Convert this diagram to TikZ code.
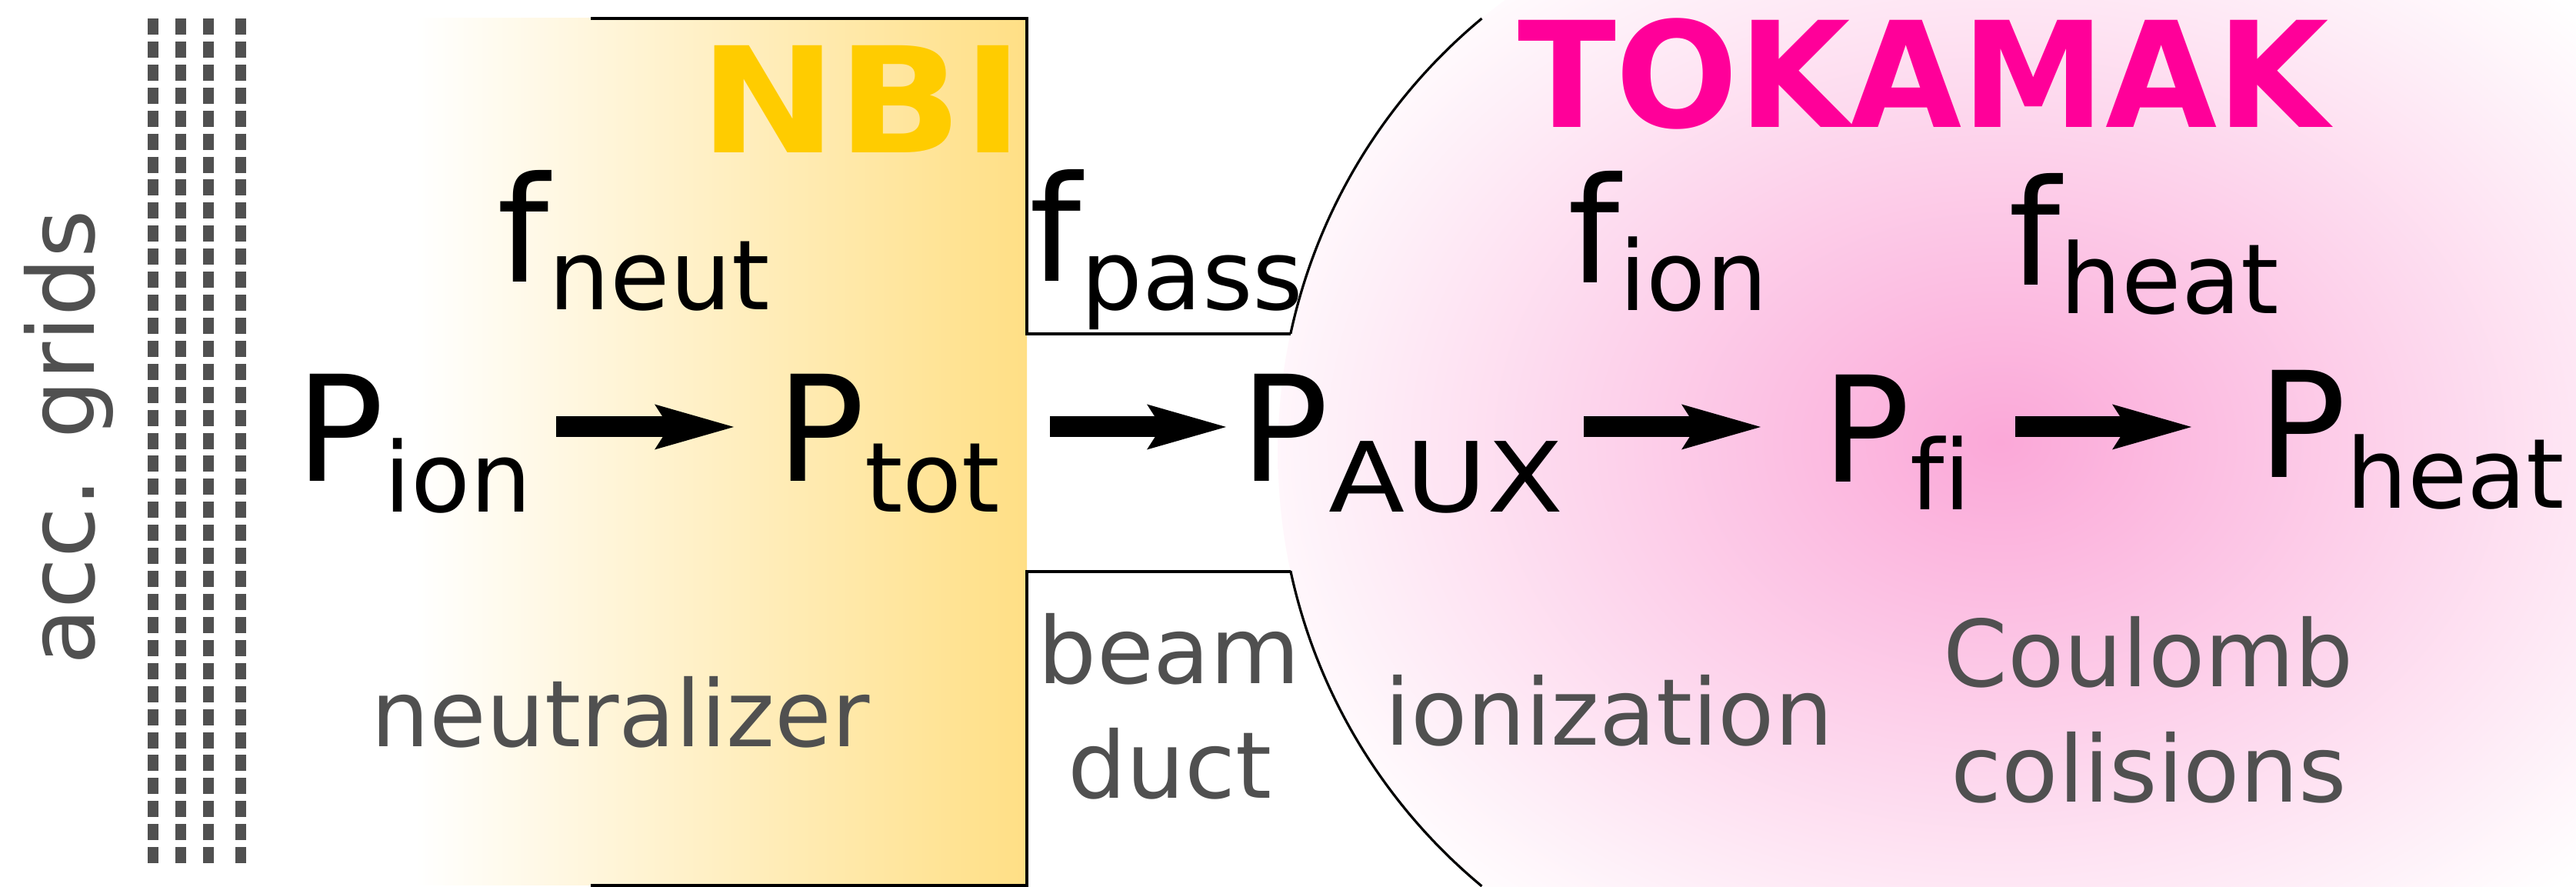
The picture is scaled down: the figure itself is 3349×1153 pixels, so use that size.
\documentclass[tikz,border=0pt]{standalone}
\usepackage{fontspec}
\setmainfont{DejaVu Sans}
\usetikzlibrary{arrows.meta}
\definecolor{nbigold}{RGB}{255,204,0}
\definecolor{tokpink}{RGB}{255,0,153}
\definecolor{nbifill}{RGB}{255,223,133}
\definecolor{pinkglow}{RGB}{251,168,216}
\definecolor{labelgray}{RGB}{80,80,80}
\definecolor{gridgray}{RGB}{80,80,80}
\newcommand{\bigsym}[3]{{\fontsize{191}{191}\selectfont #1}\raisebox{-#3pt}{\fontsize{126}{126}\selectfont #2}}
\begin{document}
\begin{tikzpicture}[x=1pt,y=1pt,
  every node/.style={inner sep=0pt, outer sep=0pt},
  sym/.style={anchor=base west, text=black},
  lbl/.style={anchor=base, text=labelgray, font=\fontsize{120}{120}\selectfont},
  titletext/.style={anchor=base west, font=\fontsize{191}{191}\selectfont\bfseries},
  arr/.style={line width=27pt, -{Stealth[length=103pt,width=59pt,inset=19pt,line width=0pt]}},
  boxline/.style={line width=4.5pt},
  arcline/.style={line width=3.2pt},
  gridline/.style={line width=14pt, draw=gridgray, dash pattern=on 21pt off 8.92pt}]

\useasboundingbox (0,0) rectangle (3349,1153);
\fill[white] (0,0) rectangle (3349,1153);

% neutralizer gradient
\shade[left color=white, right color=nbifill] (540,2) rectangle (1335,1129);

% tokamak glow
\begin{scope}
  \clip (2394,1297.6) arc[start angle=90,end angle=270,radius=732.6] -- (3349,-167.6) -- (3349,1297.6) -- cycle;
  \shade[inner color=pinkglow, outer color=white] (2600,578) ellipse [x radius=1050, y radius=800];
\end{scope}

% accelerator grids
\foreach \gx in {199,235,271,313} \draw[gridline] (\gx,1129) -- (\gx,31);

% outlines
\coordinate (C) at (2394,565);
\draw[boxline] (768,1129) -- (1335,1129) -- (1335,719) -- (1678,719);
\draw[boxline] (1678,410) -- (1335,410) -- (1335,2) -- (768,2);
\draw[arcline] (C) ++(167.86:732.6) arc[start angle=167.86,end angle=129.66,radius=732.6];
\draw[arcline] (C) ++(192.14:732.6) arc[start angle=192.14,end angle=230.34,radius=732.6];

% titles
\node[titletext, text=nbigold] (nbi) at (909,954) {\scalebox{1.12}[1]{NBI}};
\node[titletext, text=tokpink] (tok) at (1973,987) {\scalebox{0.982}[1]{TOKAMAK}};

% factors
\node[sym] (fneut) at (646.6,786) {\bigsym{f}{neut}{36}};
\node[sym] (fpass) at (1338.6,787) {\bigsym{f}{pass}{37}};
\node[sym] (fion) at (2038.6,785) {\bigsym{f}{ion}{36}};
\node[sym] (fheat) at (2611.6,782) {\bigsym{f}{heat}{37}};

% powers
\node[sym] (Pion) at (384.3,527) {\bigsym{P}{ion}{40}};
\node[sym] (Ptot) at (1009.3,527) {\bigsym{P}{tot}{40}};
\node[sym] (Paux) at (1612.8,527) {\bigsym{P}{\scalebox{1.15}[1]{AUX}}{40}};
\node[sym] (Pfi) at (2368.3,526) {\bigsym{P}{f\kern0pt i}{36}};
\node[sym] (Pheat) at (2935,532) {\bigsym{P}{heat}{40}};

% arrows
\coordinate (yl) at (0,598);
\draw[arr, shorten <=338.7pt, shorten >=55.3pt] (Pion.base west |- yl) -- (Ptot.base west |- yl);
\draw[arr, shorten <=355.7pt, shorten >=18.8pt] (Ptot.base west |- yl) -- (Paux.base west |- yl);
\draw[arr, shorten <=446.2pt, shorten >=79.3pt] (Paux.base west |- yl) -- (Pfi.base west |- yl);
\draw[arr, shorten <=251.7pt, shorten >=86pt] (Pfi.base west |- yl) -- (Pheat.base west |- yl);

% labels
\node[lbl, rotate=90, anchor=base west] (acc) at (122,288) {acc. grids};
\node[lbl] (neutr) at (806.5,182) {neutralizer};
\node[lbl] (beam) at (1520,264) {beam};
\node[lbl] (duct) at (1521,115) {duct};
\node[lbl] (ioniz) at (2092,184) {ionization};
\node[lbl] (coul) at (2793,260) {Coulomb};
\node[lbl] (colis) at (2793.5,110) {colisions};
\end{tikzpicture}
\end{document}
